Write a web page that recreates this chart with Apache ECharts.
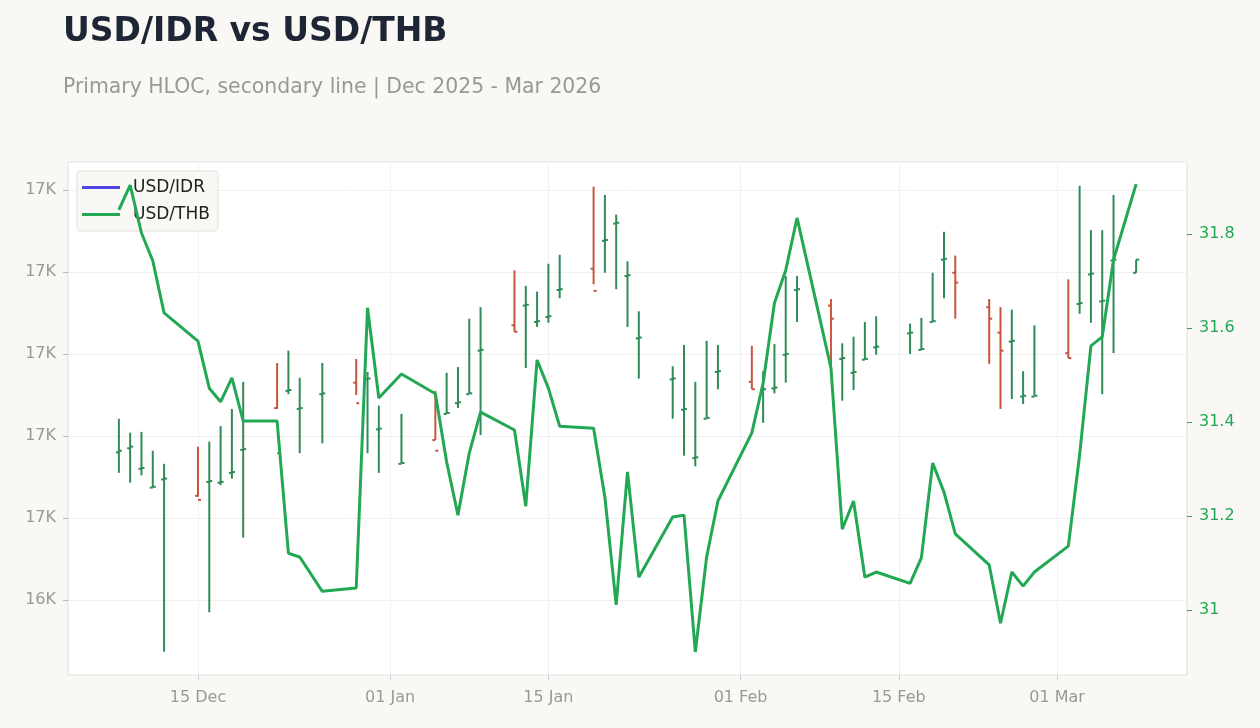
<!DOCTYPE html>
<html><head><meta charset="utf-8">
<script src="https://cdn.jsdelivr.net/npm/echarts@6/dist/echarts.min.js"></script>
<style>html,body{margin:0;background:#f9f8f5}#c{width:1260px;height:728px}</style>
</head><body><div id="c"></div>
<script>
const dates = ['2025-12-08','2025-12-09','2025-12-10','2025-12-11','2025-12-12','2025-12-15','2025-12-16','2025-12-17','2025-12-18','2025-12-19','2025-12-22','2025-12-23','2025-12-24','2025-12-26','2025-12-29','2025-12-30','2025-12-31',
'2026-01-02','2026-01-05','2026-01-06','2026-01-07','2026-01-08','2026-01-09','2026-01-12','2026-01-13','2026-01-14','2026-01-15','2026-01-16','2026-01-19','2026-01-20','2026-01-21','2026-01-22','2026-01-23','2026-01-26','2026-01-27','2026-01-28','2026-01-29','2026-01-30',
'2026-02-02','2026-02-03','2026-02-04','2026-02-05','2026-02-06','2026-02-09','2026-02-10','2026-02-11','2026-02-12','2026-02-13','2026-02-16','2026-02-17','2026-02-18','2026-02-19','2026-02-20','2026-02-23','2026-02-24','2026-02-25','2026-02-26','2026-02-27',
'2026-03-02','2026-03-03','2026-03-04','2026-03-05','2026-03-06','2026-03-08'];
const idrHigh = [16621,16604,16605,16582,16566,16587,16593,16612,16633,16666,16689,16704,16671,16689,16694,16678,16637,
16627,16655,16677,16684,16743,16757,16802,16783,16776,16810,16821,16904,16894,16870,16813,16752,16685,16711,16666,16716,16711,
16710,16679,16712,16795,16795,16767,16713,16721,16739,16746,16737,16744,16799,16849,16820,16767,16757,16754,16679,16735,
16791,16905,16851,16851,16894,16815];
const idrLow = [16555,16543,16552,16537,16337,16526,16385,16540,16548,16476,16633,16651,16579,16591,16650,16579,16555,
16567,16595,16627,16634,16652,16601,16727,16683,16733,16738,16768,16785,16799,16779,16733,16670,16621,16576,16563,16622,16657,
16657,16616,16652,16665,16739,16683,16643,16656,16693,16699,16700,16705,16740,16768,16743,16688,16633,16645,16639,16649,
16695,16749,16738,16651,16701,16799];
const idrOpen = [16580,16585,16560,16537,16547,16527,16544,16543,16555,16583,16634,16655,16633,16651,16665,16669,16608,
16566,16595,16627,16640,16651,16704,16735,16759,16739,16745,16778,16804,16838,16859,16795,16719,16669,16632,16573,16621,16678,
16666,16656,16658,16699,16778,16759,16694,16677,16693,16708,16725,16705,16739,16815,16799,16757,16726,16715,16648,16648,
16701,16761,16797,16764,16814,16799];
const idrClose = [16582,16587,16561,16538,16548,16522,16545,16544,16556,16584,16579,16656,16634,16652,16640,16670,16609,
16567,16582,16628,16641,16652,16705,16727,16760,16740,16746,16779,16777,16839,16860,16796,16720,16670,16633,16574,16622,16679,
16657,16657,16659,16700,16779,16743,16695,16678,16694,16709,16726,16706,16740,16816,16787,16743,16704,16716,16649,16649,
16695,16762,16798,16765,16815,16815];
const thb = [31.851,31.904,31.802,31.743,31.632,31.572,31.472,31.443,31.494,31.402,31.402,31.121,31.113,31.040,31.047,31.643,31.451,
31.502,31.460,31.315,31.202,31.334,31.421,31.383,31.221,31.532,31.472,31.391,31.387,31.240,31.011,31.294,31.070,31.198,31.202,30.911,31.113,31.232,
31.377,31.483,31.653,31.723,31.834,31.515,31.172,31.232,31.070,31.081,31.057,31.111,31.313,31.251,31.162,31.096,30.972,31.081,31.051,31.081,
31.136,31.330,31.562,31.581,31.745,31.906];
const xTickDates = ['2025-12-15','2026-01-01','2026-01-15','2026-02-01','2026-02-15','2026-03-01'];
const months = ['Jan','Feb','Mar','Apr','May','Jun','Jul','Aug','Sep','Oct','Nov','Dec'];

const t = s => Date.parse(s + 'T00:00:00Z');
const ohlc = dates.map((d, i) => [t(d), idrOpen[i], idrHigh[i], idrLow[i], idrClose[i]]);
const line = dates.map((d, i) => [t(d), thb[i]]);
const xTicks = xTickDates.map(t);
const UP = '#2e8b57', DOWN = '#c8553d';

const chart = echarts.init(document.getElementById('c'));
chart.setOption({
  backgroundColor: '#f9f8f5',
  animation: false,
  title: {
    text: 'USD/IDR vs USD/THB', left: 63, top: 16, padding: 0,
    textStyle: {fontFamily: 'DejaVu Sans', fontSize: 33, fontWeight: 'bold', color: '#1e2535'},
    subtext: 'Primary HLOC, secondary line | Dec 2025 - Mar 2026', itemGap: 29,
    subtextStyle: {fontFamily: 'DejaVu Sans', fontSize: 20.4, color: '#999994'}
  },
  legend: {
    left: 77, top: 171, orient: 'vertical', itemGap: 10, padding: [8, 8, 8, 5], z: 1,
    backgroundColor: '#f9f8f5', borderColor: '#e2e0dc', borderWidth: 1, borderRadius: 3,
    itemWidth: 38, itemHeight: 3,
    textStyle: {fontFamily: 'DejaVu Sans', fontSize: 17, color: '#222', padding: [0, 0, 0, 8]},
    data: [{name: 'USD/IDR', icon: 'rect', itemStyle: {color: '#5046e5'}},
           {name: 'USD/THB', icon: 'rect', itemStyle: {color: '#22a852'}}]
  },
  grid: {left: 68, right: 73, top: 162, bottom: 53, show: true, backgroundColor: '#ffffff', borderColor: '#e2ded6', borderWidth: 1},
  xAxis: {
    type: 'value', min: Date.UTC(2025, 11, 3, 12), max: Date.UTC(2026, 2, 12, 12),
    axisLine: {show: false},
    axisTick: {show: true, customValues: xTicks, length: 5, lineStyle: {color: '#ccc'}},
    axisLabel: {customValues: xTicks, color: '#999994', fontSize: 16, fontFamily: 'DejaVu Sans', margin: 15,
      formatter: v => { const d = new Date(v); return String(d.getUTCDate()).padStart(2, '0') + ' ' + months[d.getUTCMonth()]; }},
    splitLine: {show: true, lineStyle: {color: '#f0f0f0'}}
  },
  yAxis: [{
    type: 'value', min: 16308.5, max: 16934.1, splitNumber: 5,
    axisLine: {show: false}, axisTick: {show: true, length: 5, lineStyle: {color: '#bbb'}},
    axisLabel: {showMinLabel: false, showMaxLabel: false, color: '#999994', fontSize: 16, fontFamily: 'DejaVu Sans', margin: 12,
      formatter: v => (v / 1000).toFixed(0) + 'K'},
    splitLine: {lineStyle: {color: '#f0f0f0'}}
  }, {
    type: 'value', min: 30.862, max: 31.953, splitNumber: 5, position: 'right',
    axisLine: {show: false}, axisTick: {show: true, length: 5, lineStyle: {color: '#22a852'}},
    axisLabel: {showMinLabel: false, showMaxLabel: false, color: '#22a852', fontSize: 16, fontFamily: 'DejaVu Sans', margin: 12},
    splitLine: {show: false}
  }],
  series: [{
    name: 'USD/IDR', type: 'custom', yAxisIndex: 0, data: ohlc, color: '#5046e5', z: 2,
    encode: {x: 0, y: [1, 2, 3, 4]},
    renderItem: (params, api) => {
      const x = api.value(0), o = api.value(1), h = api.value(2), l = api.value(3), c = api.value(4);
      const pH = api.coord([x, h]), pL = api.coord([x, l]), pO = api.coord([x, o]), pC = api.coord([x, c]);
      const col = c >= o ? UP : DOWN;
      const st = {stroke: col, lineWidth: 2};
      return {type: 'group', children: [
        {type: 'line', shape: {x1: pH[0], y1: pH[1], x2: pL[0], y2: pL[1]}, style: st},
        {type: 'line', shape: {x1: pO[0] - 3, y1: pO[1], x2: pO[0], y2: pO[1]}, style: st},
        {type: 'line', shape: {x1: pC[0], y1: pC[1], x2: pC[0] + 3, y2: pC[1]}, style: st}
      ]};
    }
  }, {
    name: 'USD/THB', type: 'line', yAxisIndex: 1, data: line, showSymbol: false, color: '#22a852',
    lineStyle: {width: 3, color: '#22a852'}, z: 3
  }]
});
</script></body></html>
